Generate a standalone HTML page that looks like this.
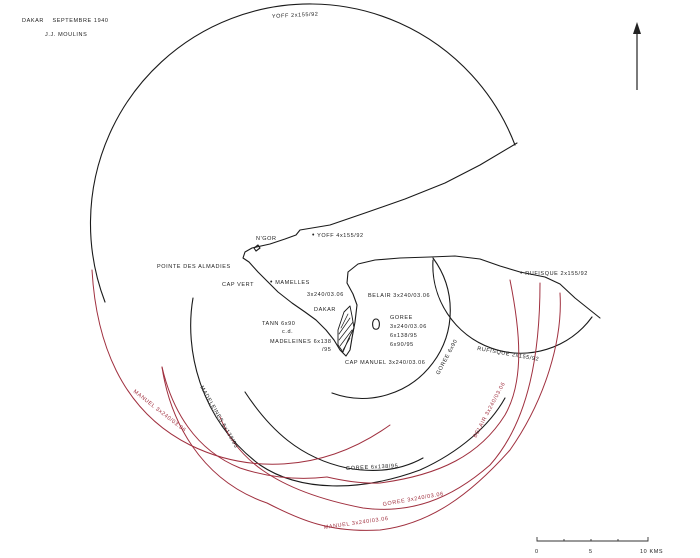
<!DOCTYPE html>
<html><head><meta charset="utf-8"><style>
html,body{margin:0;padding:0;background:#fff}
svg{display:block}
text{font-family:"Liberation Sans",sans-serif;font-size:5.5px;fill:#222;letter-spacing:0.6px}
.r{fill:#a0303f}
</style></head><body>
<svg width="700" height="558" viewBox="0 0 700 558" xmlns="http://www.w3.org/2000/svg">
<g fill="none" stroke="#1a1a1a" stroke-width="1.1" stroke-linecap="round" stroke-linejoin="round">
<!-- big Yoff circle -->
<path d="M515,145 A216,216 0 1 0 105,302"/>
<!-- coast -->
<path d="M517,143 L480,165 L445,183 L405,199 L365,213 L330,225 L300,230 L296,235 L285,239 L270,244 L252,248 L245,252 L243,258 L249,262 L258,272 L268,282 L278,292 L292,303 L305,312 L316,320 L326,330 L334,340 L340,350 L346,356 L350,350 L352,338 L355,322 L357,305 L353,294 L347,283 L348,272 L358,264 L375,260 L400,258 L430,257 L455,256 L480,259 L500,266 L520,272 L545,277 L560,284 L575,298 L590,310 L600,318"/>
<!-- N'Gor islet -->
<path d="M254,248 l4,-3 l2,3 l-4,3 z"/>
<!-- Goree islet -->
<path d="M376,319 c-3,0 -4,4 -3,8 c1,3 5,3 6,0 c1,-4 0,-8 -3,-8 z"/>
<!-- Dakar hatched -->
<path d="M338,330 L344,312 L350,306 L352,316 L354,328 L348,340 L343,352 L338,345 Z" stroke-width="0.9"/>
<path d="M339,334 L350,318 M339,340 L353,322 M340,346 L352,330 M341,328 L348,314 M343,350 L350,338" stroke-width="0.7"/>
<!-- Goree 6x90 -->
<path d="M433,258 A88,88 0 0 1 332,393"/>
<!-- Rufisque -->
<path d="M433,260 A88,88 0 0 0 592,317"/>
<!-- Madeleines 6x138 -->
<path d="M193,298 C184,350 200,420 260,465 C300,492 360,492 420,470 C460,452 490,425 505,398"/>
<!-- Goree 6x138 -->
<path d="M245,392 C270,430 300,458 347,468 C380,474 405,468 423,458"/>
</g>
<g fill="none" stroke="#a0303f" stroke-width="1" stroke-linecap="round">
<path d="M92,270 C96,340 120,410 190,445 C245,472 320,475 390,425"/>
<path d="M162,367 C172,410 195,450 240,468 C270,478 300,480 327,477"/>
<path d="M510,280 C520,330 525,380 505,415 C480,455 440,475 380,483 C360,484 340,480 327,477"/>
<path d="M220,417 C235,455 270,490 363,508 C410,514 450,500 490,465 C530,420 540,350 540,283"/>
<path d="M162,367 C170,420 200,480 267,503 C300,520 330,533 380,530 C430,524 470,495 510,450 C545,400 563,340 560,293"/>
</g>
<!-- north arrow -->
<line x1="637" y1="90" x2="637" y2="28" stroke="#222" stroke-width="1.2"/>
<path d="M633,34 L637,22 L641,34 Z" fill="#222"/>
<!-- scale -->
<g stroke="#333" stroke-width="0.9" fill="none">
<path d="M537,537 L537,541 L648,541 L648,537 M564,539 L564,541 M591,539 L591,541 M618,539 L618,541"/>
</g>
<text x="535" y="553">0</text><text x="589" y="553">5</text><text x="640" y="553">10 KMS</text>
<!-- labels -->
<text x="22" y="22">DAKAR&#160;&#160;&#160; SEPTEMBRE 1940</text>
<text x="45" y="36">J.J. MOULINS</text>
<text x="272" y="18" transform="rotate(-3 272 18)">YOFF 2x155/92</text>
<text x="256" y="240">N'GOR</text>
<text x="312" y="237"><tspan font-size="7">•</tspan> YOFF 4x155/92</text>
<text x="157" y="268">POINTE DES ALMADIES</text>
<text x="222" y="286">CAP VERT</text>
<text x="270" y="284"><tspan font-size="7">•</tspan> MAMELLES</text>
<text x="307" y="296">3x240/03.06</text>
<text x="368" y="297">BELAIR 3x240/03.06</text>
<text x="314" y="311">DAKAR</text>
<text x="262" y="325">TANN 6x90</text><text x="282" y="333">c.d.</text>
<text x="270" y="343">MADELEINES 6x138</text><text x="322" y="351">/95</text>
<text x="390" y="319">GOREE</text>
<text x="390" y="328">3x240/03.06</text>
<text x="390" y="337">6x138/95</text>
<text x="390" y="346">6x90/95</text>
<text x="345" y="364">CAP MANUEL 3x240/03.06</text>
<text x="439" y="375" transform="rotate(-62 439 375)">GOREE 6x90</text>
<text x="520" y="275"><tspan font-size="7">•</tspan> RUFISQUE 2x155/92</text>
<text x="477" y="350" transform="rotate(10 477 350)">RUFISQUE 2x155/92</text>
<text x="346" y="470" transform="rotate(-3 346 470)">GOREE 6x138/95</text>
<text x="200" y="387" transform="rotate(60 200 387)">MADELEINES 6x138/95</text>
<text class="r" x="133" y="392" transform="rotate(38 133 392)">MANUEL 3x240/03.06</text>
<text class="r" x="476" y="438" transform="rotate(-62 476 438)">BELAIR 3x240/03.06</text>
<text class="r" x="383" y="506" transform="rotate(-10 383 506)">GOREE 3x240/03.06</text>
<text class="r" x="324" y="529" transform="rotate(-8 324 529)">MANUEL 3x240/03.06</text>
</svg>
</body></html>
